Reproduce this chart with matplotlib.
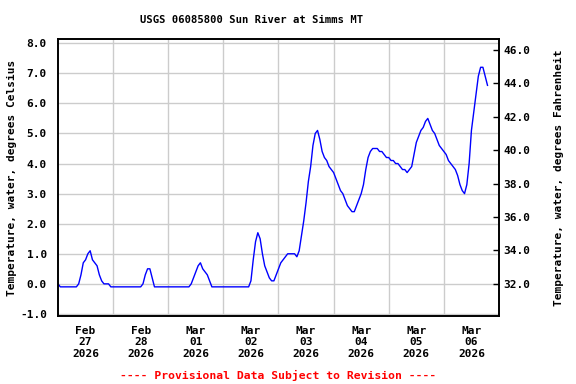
import numpy as np
import pandas as pd
import matplotlib
matplotlib.use('Agg')
import matplotlib.pyplot as plt

# valores horarios da temperatura da agua (graus Celsius)
feb27 = [0.0, -0.1, -0.1, -0.1, -0.1, -0.1, -0.1, -0.1, -0.1, 0.0, 0.3, 0.7,
         0.8, 1.0, 1.1, 0.8, 0.7, 0.6, 0.3, 0.1, 0.0, 0.0, 0.0, -0.1]
feb28 = [-0.1, -0.1, -0.1, -0.1, -0.1, -0.1, -0.1, -0.1, -0.1, -0.1, -0.1, -0.1,
         -0.1, 0.0, 0.3, 0.5, 0.5, 0.2, -0.1, -0.1, -0.1, -0.1, -0.1, -0.1]
mar01 = [-0.1, -0.1, -0.1, -0.1, -0.1, -0.1, -0.1, -0.1, -0.1, -0.1, 0.0, 0.2,
         0.4, 0.6, 0.7, 0.5, 0.4, 0.3, 0.1, -0.1, -0.1, -0.1, -0.1, -0.1]
mar02 = [-0.1, -0.1, -0.1, -0.1, -0.1, -0.1, -0.1, -0.1, -0.1, -0.1, -0.1, -0.1,
         0.1, 0.8, 1.4, 1.7, 1.5, 1.0, 0.6, 0.4, 0.2, 0.1, 0.1, 0.3]
mar03 = [0.5, 0.7, 0.8, 0.9, 1.0, 1.0, 1.0, 1.0, 0.9, 1.1, 1.6, 2.1,
         2.7, 3.4, 3.9, 4.6, 5.0, 5.1, 4.8, 4.4, 4.2, 4.1, 3.9, 3.8]
mar04 = [3.7, 3.5, 3.3, 3.1, 3.0, 2.8, 2.6, 2.5, 2.4, 2.4, 2.6, 2.8,
         3.0, 3.3, 3.8, 4.2, 4.4, 4.5, 4.5, 4.5, 4.4, 4.4, 4.3, 4.2]
mar05 = [4.2, 4.1, 4.1, 4.0, 4.0, 3.9, 3.8, 3.8, 3.7, 3.8, 3.9, 4.3,
         4.7, 4.9, 5.1, 5.2, 5.4, 5.5, 5.3, 5.1, 5.0, 4.8, 4.6, 4.5]
mar06 = [4.4, 4.3, 4.1, 4.0, 3.9, 3.8, 3.6, 3.3, 3.1, 3.0, 3.3, 4.0,
         5.1, 5.7, 6.3, 6.9, 7.2, 7.2, 6.9, 6.6]

temp_c = feb27 + feb28 + mar01 + mar02 + mar03 + mar04 + mar05 + mar06
horas = pd.date_range('2026-02-27 00:00', periods=len(temp_c), freq='h')

titulo = 'USGS 06085800 Sun River at Simms MT'
rotulo_c = 'Temperature, water, degrees Celsius'
rotulo_f = 'Temperature, water, degrees Fahrenheit'
aviso = '---- Provisional Data Subject to Revision ----'

fonte = 'DejaVu Sans Mono'
plt.rcParams['font.family'] = fonte
plt.rcParams['font.weight'] = 'bold'

fig = plt.figure(figsize=(5.76, 3.84), dpi=100)
ax = fig.add_axes([0.1007, 0.177, 0.7656, 0.7214])

ax.plot(horas, temp_c, color='#0000ff', linewidth=1.0)

inicio = pd.Timestamp('2026-02-27 00:00')
fim = pd.Timestamp('2026-03-07 00:00')
ax.set_xlim(inicio, fim)
ylim = (-1.07, 8.14)
ax.set_ylim(*ylim)

# grade nas meias-noites, rotulos ao meio-dia
dias = pd.date_range(inicio, fim, freq='D')
ax.set_xticks(dias[1:-1])
ax.set_xticklabels([])
meio_dia = dias[:-1] + pd.Timedelta(hours=12)
ax.set_xticks(meio_dia, minor=True)
ax.set_xticklabels([d.strftime('%b\n%d\n%Y') for d in meio_dia], minor=True)
ax.tick_params(axis='x', which='both', length=0, pad=7, labelsize=8)

ax.set_yticks(np.arange(-1, 9, 1))
ax.set_yticklabels(['%.1f' % v for v in np.arange(-1, 9, 1)])
ax.tick_params(axis='y', length=0, pad=8, labelsize=8)

ax.grid(True, which='major', color='#cccccc', linewidth=1.0)
ax.set_axisbelow(True)
for s in ax.spines.values():
    s.set_linewidth(1.2)

ax.set_ylabel(rotulo_c, fontsize=8, fontweight='bold')
ax.yaxis.set_label_coords(-0.093, 0.5)

# eixo secundario em Fahrenheit
ax2 = ax.twinx()
ax2.set_ylim(ylim[0] * 1.8 + 32, ylim[1] * 1.8 + 32)
ax2.set_yticks(np.arange(32, 47, 2))
ax2.set_yticklabels(['%.1f' % v for v in np.arange(32, 47, 2)])
ax2.tick_params(axis='y', direction='in', length=4, width=1.0, pad=3, labelsize=8)
ax2.set_ylabel(rotulo_f, fontsize=8, fontweight='bold', labelpad=17)
for s in ax2.spines.values():
    s.set_linewidth(1.2)

fig.text(0.4375, 0.948, titulo, fontsize=7.6, fontweight='bold',
         ha='center', va='center')
fig.text(0.482, 0.023, aviso, color='#ff0000', fontsize=8.2, fontweight='bold',
         ha='center', va='center')

plt.savefig('out.png', dpi=100)
